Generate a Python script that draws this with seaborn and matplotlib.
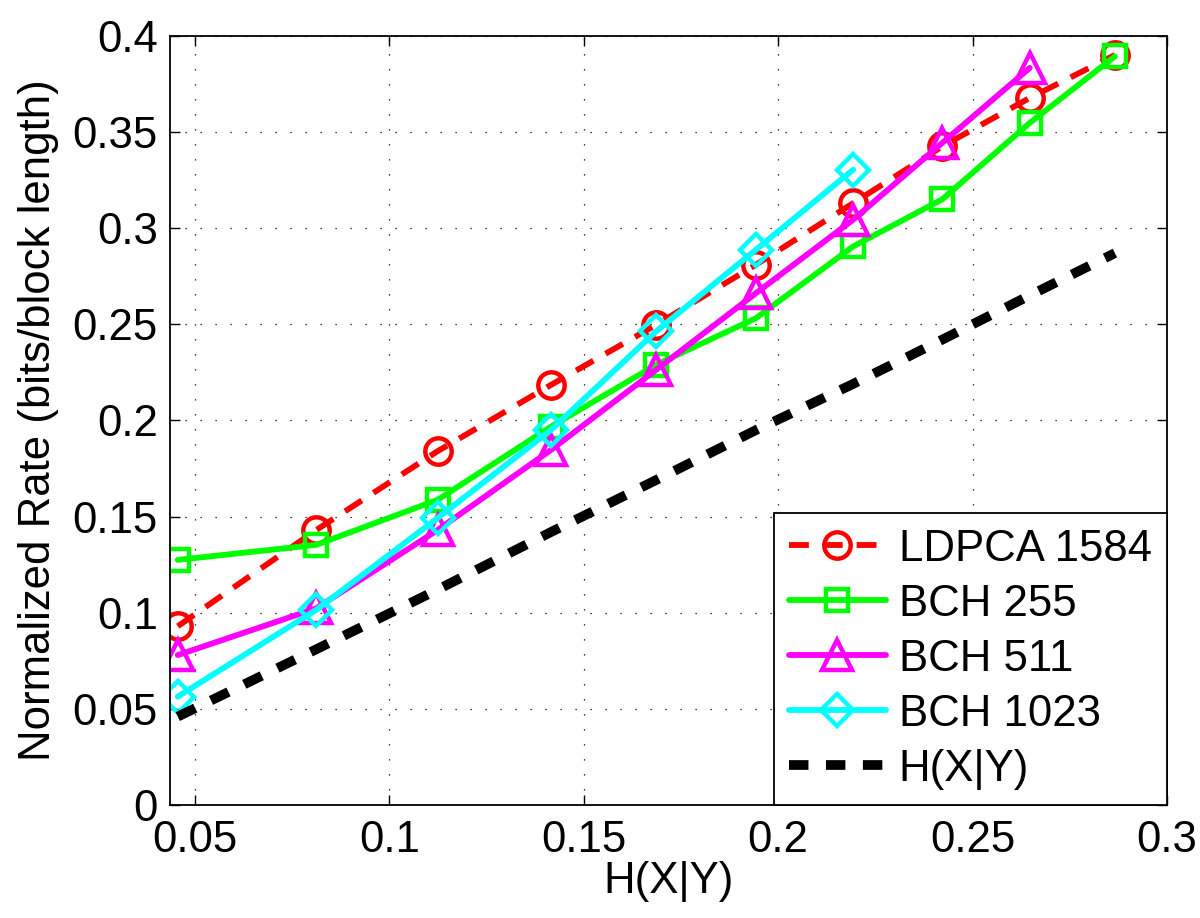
import matplotlib
matplotlib.use("Agg")
import matplotlib.pyplot as plt
import pandas as pd
import seaborn as sns

# conditional entropy H(X|Y) sample points
H_XY = [0.0456, 0.0812, 0.1124, 0.1416, 0.1686, 0.1943, 0.2193, 0.2422, 0.2647, 0.2866]

LDPCA_1584 = [0.093, 0.143, 0.184, 0.2185, 0.2497, 0.281, 0.313, 0.3425, 0.3677, 0.390]
BCH_255 = [0.1275, 0.1353, 0.1587, 0.1968, 0.2289, 0.2532, 0.2905, 0.3150, 0.3547, 0.3893]
BCH_511 = [0.078, 0.1023, 0.143, 0.1847, 0.2263, 0.2662, 0.3044, 0.3443, 0.3833]
BCH_1023 = [0.0564, 0.1015, 0.1492, 0.1951, 0.2463, 0.2888, 0.3304]
BOUND = [0.046, 0.081, 0.112, 0.142, 0.169, 0.195, 0.219, 0.242, 0.265, 0.287]

X_TICKS = [0.05, 0.1, 0.15, 0.2, 0.25, 0.3]
X_TICK_LABELS = ["0.05", "0.1", "0.15", "0.2", "0.25", "0.3"]
Y_TICKS = [0, 0.05, 0.1, 0.15, 0.2, 0.25, 0.3, 0.35, 0.4]
Y_TICK_LABELS = ["0", "0.05", "0.1", "0.15", "0.2", "0.25", "0.3", "0.35", "0.4"]

sns.set_theme(style="white")
plt.rcParams["font.family"] = ["Liberation Sans", "DejaVu Sans"]
plt.rcParams["axes.unicode_minus"] = False
plt.rcParams["text.color"] = "black"
plt.rcParams["axes.labelcolor"] = "black"

FS = 31.5


def series_frame(y: list[float]) -> pd.DataFrame:
    return pd.DataFrame({"x": H_XY[: len(y)], "y": y})


def main() -> None:
    fig = plt.figure(figsize=(12, 9.18), dpi=100)
    ax = fig.add_axes([0.142, 0.123, 0.8305, 0.838])

    common = dict(ax=ax, x="x", y="y", errorbar=None, sort=False, legend=False,
                  markerfacecolor="none", markeredgewidth=3.2)

    sns.lineplot(data=series_frame(LDPCA_1584), color="#ff0000", marker="o",
                 markersize=19, markeredgecolor="#ff0000", linewidth=4.2,
                 linestyle=(0, (3.4, 2.4)), label="LDPCA 1584", **common)
    sns.lineplot(data=series_frame(BCH_255), color="#00ff00", marker="s",
                 markersize=16, markeredgecolor="#00ff00", linewidth=4.2,
                 linestyle="-", label="BCH 255", **common)
    sns.lineplot(data=series_frame(BCH_511), color="#ff00ff", marker="^",
                 markersize=22, markeredgecolor="#ff00ff", linewidth=4.2,
                 linestyle="-", label="BCH 511", **common)
    sns.lineplot(data=series_frame(BCH_1023), color="#00ffff", marker="D",
                 markersize=16, markeredgecolor="#00ffff", linewidth=4.2,
                 linestyle="-", label="BCH 1023", **common)
    sns.lineplot(data=series_frame(BOUND), color="black", linewidth=7,
                 linestyle=(0, (2.0, 1.8)), label="H(X|Y)",
                 ax=ax, x="x", y="y", errorbar=None, sort=False, legend=False)

    ax.set_xlim(0.0437, 0.3)
    ax.set_ylim(0, 0.4)
    ax.set_xticks(X_TICKS)
    ax.set_xticklabels(X_TICK_LABELS)
    ax.set_yticks(Y_TICKS)
    ax.set_yticklabels(Y_TICK_LABELS)
    ax.tick_params(axis="both", which="both", direction="in", length=7, width=1,
                   top=True, right=True, bottom=True, left=True,
                   labelsize=FS, colors="black")
    ax.tick_params(axis="x", pad=11)
    ax.tick_params(axis="y", pad=9)
    ax.grid(True, color="black", linewidth=0.9, linestyle=(0, (1, 11)))
    for spine in ax.spines.values():
        spine.set_color("black")
        spine.set_linewidth(1.3)

    ax.set_xlabel("H(X|Y)", fontsize=FS, labelpad=0)
    ax.set_ylabel("Normalized Rate (bits/block length)", fontsize=FS, labelpad=10)

    leg = ax.legend(loc="lower right", borderaxespad=0, fontsize=FS, frameon=True,
                    fancybox=False, framealpha=1, edgecolor="black",
                    handlelength=2.2, handletextpad=0.3, labelspacing=0.32,
                    borderpad=0.35, numpoints=1)
    leg.get_frame().set_linewidth(1.3)

    fig.savefig("out.png", dpi=100)
    plt.close(fig)


if __name__ == "__main__":
    main()
